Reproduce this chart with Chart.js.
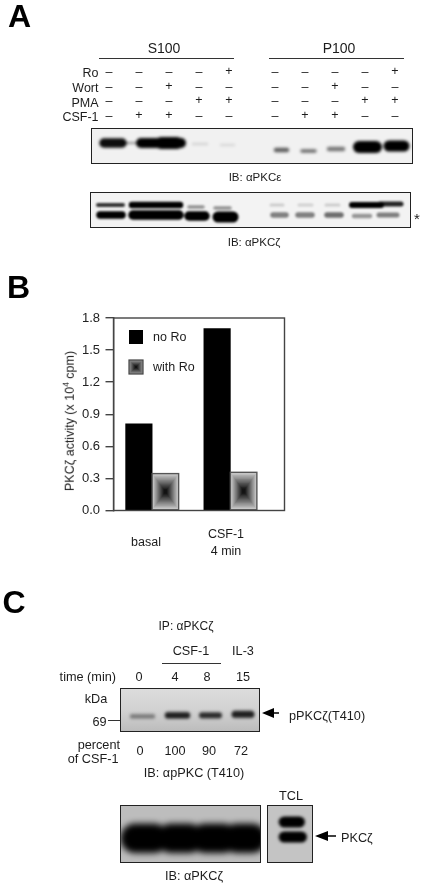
<!DOCTYPE html>
<html><head><meta charset="utf-8">
<script src="https://cdn.jsdelivr.net/npm/chart.js@4"></script>
<style>
html,body{margin:0;padding:0;background:#fff;width:425px;height:886px;overflow:hidden}
#page{position:relative;width:425px;height:886px;font-family:"Liberation Sans",Arial,sans-serif;color:#1c1c1c}
.t{position:absolute;white-space:nowrap;line-height:1;transform:translate(-50%,-50%);filter:blur(.3px)}
.t.r{transform:translate(-100%,-50%)}
.t.l{transform:translate(0,-50%)}
.big{font-weight:bold;font-size:32px;color:#000}
.rule{position:absolute;background:#333}
.blot{position:absolute;box-sizing:border-box;border:1.5px solid #222;overflow:hidden}
.blot canvas{position:absolute;left:0;top:0}
sup{font-size:8.5px;line-height:0}
</style></head><body><div id="page"></div>
<script>
// Panel B values
const categories=['basal','CSF-1 4 min'];
const noRo=[0.81,1.70];
const withRo=[0.345,0.357];
const yTicks=[0,0.3,0.6,0.9,1.2,1.5,1.8];
// Panel A treatment matrix (one row per label, S100 then P100)
const treatments=['Ro','Wort','PMA','CSF-1'];
const roRow  =['-','-','-','-','+','-','-','-','-','+'];
const wortRow=['-','-','+','-','-','-','-','+','-','-'];
const pmaRow =['-','-','-','+','+','-','-','-','+','+'];
const csfRow =['-','+','+','-','-','-','+','+','-','-'];
// Panel C readings
const timeLabels=['0','4','8','15'];
const percentCSF=['0','100','90','72'];
// Blot bands: [start, end, lane height, thickness, darkness]
const epsilonBands=[[103,121,142,9.5,.95],[122,138,142,2,.4],[140,180,142,10,1],[160,176,142,12,1],[192,206,143,2.5,.12],[220,233,144,2.5,.1],
 [275,286,149,4.5,.6],[301,314,150,3.5,.55],[328,342,148,4.5,.5],[358,375,146,12,1],[388,403,145,11,1]];
const zetaBands=[[97,122,204,4,.8],[131,179,204,6.5,1],[188,202,206,3.5,.4],[214,229,207,3.5,.4],[270,282,204,3,.16],[298,311,204,3,.14],[325,338,204,3,.16],[351,380,204,6,1],[379,400,203,5,.85],
 [99,121,214,7.5,1],[132,178,214,9.5,1],[188,204,215,9.5,1],[217,232,216,11,1],[272,285,214,5.5,.48],[297,311,214,5.5,.48],[326,340,214,5.5,.55],[353,369,215,4.5,.38],[378,396,214,5,.48]];
const t410Bands=[[131,152,715,4.5,.4],[167,186,714,6.5,.85],[201,218,714,6,.8],[234,250,713,7,.85]];
const totalBands=[[134,153,837,29,1],[170,188,837,29,1],[204,222,837,29,1],[236,251,837,29,1]];
const tclBands=[[283,298,821,11,1],[283,300,836,11,1]];

const page=document.getElementById('page');
function text(s,x,y,size,cls,html){const d=document.createElement('div');d.className='t '+(cls||'');
 d.style.left=x+'px';d.style.top=y+'px';if(size)d.style.fontSize=size+'px';
 if(html)d.innerHTML=s;else d.textContent=s;page.appendChild(d);return d;}
function rule(x,y,w,h){const d=document.createElement('div');d.className='rule';
 d.style.cssText=`left:${x}px;top:${y}px;width:${w}px;height:${h}px`;page.appendChild(d);}

// ---- Panel A text
text('A',19.5,16,32,'big');
text('S100',164,48,14);text('P100',339,48,14);
rule(99,57.5,135,1);rule(269,57.5,135,1);
const colsX=[109,139,169,199,229,275,305,335,365,395];
const rowsY=[72,86.5,101,116];
const labelY=[73,88,103,117];
[roRow,wortRow,pmaRow,csfRow].forEach((row,r)=>{
 text(treatments[r],98.5,labelY[r],12.5,'r');
 row.forEach((s,c)=>text(s==='+'?'+':'–',colsX[c],rowsY[r]-(s==='+'?1:0),12.5));
});
text('IB: αPKCε',255,178,11.5);
text('*',417,218,15);
text('IB: αPKCζ',254,243,11.5);

// ---- Panel C text
text('C',14,602,32,'big');
text('IP: αPKCζ',186,626,12);
text('CSF-1',191,651,12.7);text('IL-3',243,651,12.7);
rule(162,663,59,1);
text('time (min)',116,677,12.7,'r');
[139,175,207,243].forEach((x,i)=>text(timeLabels[i],x,677,12.7));
text('kDa',96,699,12.7);text('69',99.5,722,12.7);rule(108,720,11.5,1);
text('pPKCζ(T410)',289,716,12.7,'l');
text('percent',120,745,12.7,'r');text('of CSF-1',118.5,759,12.7,'r');
[140,175,209,241].forEach((x,i)=>text(percentCSF[i],x,751,12.7));
text('IB: αpPKC (T410)',194,773,12.7);
text('TCL',291,796,12.7);
text('PKCζ',341,838,12.7,'l');
text('IB: αPKCζ',194,876,12.7);
function arrow(x0,x1,y,hw,hl){const s=document.createElementNS('http://www.w3.org/2000/svg','svg');
 s.setAttribute('width',x1-x0);s.setAttribute('height',hw*2+2);
 s.style.cssText=`position:absolute;left:${x0}px;top:${y-hw-1}px`;
 const c=hw+1;s.innerHTML=`<path d="M0 ${c}L${hl} ${c-hw}V${c-.8}H${x1-x0}V${c+.8}H${hl}V${c+hw}Z" fill="#000"/>`;
 page.appendChild(s);}
arrow(262,279,713,5,12);arrow(315,336,836,5,13);

// ---- Blots, drawn as Chart.js line segments through linear scales
function blot(x,y,w,h,bands,bg,blur){
 const box=document.createElement('div');box.className='blot';
 box.style.cssText=`left:${x}px;top:${y}px;width:${w}px;height:${h}px;background:${bg}`;
 const cv=document.createElement('canvas');const W=w+20,H=h+20;
 cv.width=W;cv.height=H;cv.style.cssText=`left:-10px;top:-10px;width:${W}px;height:${H}px;filter:blur(${blur}px)`;
 box.appendChild(cv);page.appendChild(box);
 new Chart(cv,{type:'line',
  data:{datasets:bands.map(b=>({data:[{x:b[0],y:b[2]},{x:b[1],y:b[2]}],
    borderWidth:b[3],borderCapStyle:'round',borderColor:`rgba(0,0,0,${b[4]})`,pointRadius:0}))},
  options:{responsive:false,animation:false,events:[],
   layout:{padding:0},
   plugins:{legend:{display:false},tooltip:{enabled:false}},
   scales:{x:{type:'linear',display:false,min:x-10,max:x-10+W},
           y:{type:'linear',display:false,reverse:true,min:y-10,max:y-10+H}}}});
}
blot(91,128,322,36,epsilonBands,'#f1f1f1',1.4);
blot(90,192,321,36,zetaBands,'#f3f3f3',1.2);
blot(120,688,140,43.5,t410Bands,'linear-gradient(#dcdcdc,#d2d2d2 50%,#bcbcbc)',1.7);
blot(120,805,141,57.5,totalBands,'#bdbdbd',3.2);
blot(267,805,45.5,58,tclBands,'#c4c4c4',1.6);

// ---- Panel B chart
text('B',18.5,287,32,'big');
function boxGradient(ctx,x,y,w,h,edge){
 const n=14;
 for(let i=0;i<n;i++){const f=i/n;const g=Math.max(18,Math.round(edge-(edge-18)*f*1.15));
  ctx.fillStyle=`rgb(${g},${g},${g})`;
  ctx.fillRect(x+w*f/2,y+h*f/2,w*(1-f),h*(1-f));}
}
const boxPlugin={id:'boxPlugin',
 afterDatasetsDraw(chart){const ctx=chart.ctx;const a=chart.chartArea;
  ctx.save();
  chart.getDatasetMeta(1).data.forEach(el=>{
   const w=el.width,x=el.x-w/2,y=el.y,h=el.base-el.y;
   boxGradient(ctx,x,y,w,h,205);
   ctx.strokeStyle='#555';ctx.lineWidth=1.4;ctx.strokeRect(x,y,w,h);
  });
  // plot frame
  ctx.strokeStyle='#444';ctx.lineWidth=1.4;
  ctx.strokeRect(a.left,a.top,a.right-a.left,a.bottom-a.top);
  // legend swatches
  const lx=129-60;
  ctx.fillStyle='#000';ctx.fillRect(lx,330-300,14,14);
  boxGradient(ctx,lx,360-300,14,14,150);
  ctx.strokeStyle='#444';ctx.lineWidth=1.2;ctx.strokeRect(lx,360-300,14,14);
  ctx.restore();
 }};
const bc=document.createElement('canvas');bc.width=240;bc.height=225;
bc.style.cssText='position:absolute;left:60px;top:300px;width:240px;height:225px';
page.appendChild(bc);
new Chart(bc,{type:'bar',
 data:{datasets:[
  {label:'no Ro',data:noRo.map((v,i)=>({x:i+1,y:v})),backgroundColor:'#000',barThickness:26.5},
  {label:'with Ro',data:withRo.map((v,i)=>({x:i+1,y:v})),backgroundColor:'rgba(0,0,0,0)',barThickness:26.5}]},
 plugins:[boxPlugin],
 options:{responsive:false,animation:false,events:[],
  layout:{padding:{top:18,bottom:6.5,left:0,right:15.5}},
  plugins:{legend:{display:false},tooltip:{enabled:false}},
  scales:{
   x:{type:'linear',offset:false,min:0.506,max:2.692,ticks:{display:false},grid:{display:false},border:{display:false}},
   y:{min:0,max:1.8,afterFit(s){s.width=53.5;},afterBuildTicks(s){s.ticks=yTicks.map(v=>({value:v}));},
      ticks:{callback:v=>v.toFixed(1),color:'#222',font:{family:'"Liberation Sans"',size:13},padding:5.5},
      grid:{drawOnChartArea:false,drawTicks:true,tickLength:8,color:'#444',lineWidth:1.4},
      border:{color:'#444',width:1.4}}
  }}});
text('no Ro',153,336.5,12.5,'l');
text('with Ro',153,366.5,12.5,'l');
text('PKCζ activity (x 10<sup>4</sup> cpm)',70,421,12.5,'',true).style.transform='translate(-50%,-50%) rotate(-90deg)';
text(categories[0],146,542,12.5);
const parts=categories[1].split(' ');
text(parts[0],226,534,12.5);
text(categories[1].slice(parts[0].length+1),226,551,12.5);
</script></body></html>
